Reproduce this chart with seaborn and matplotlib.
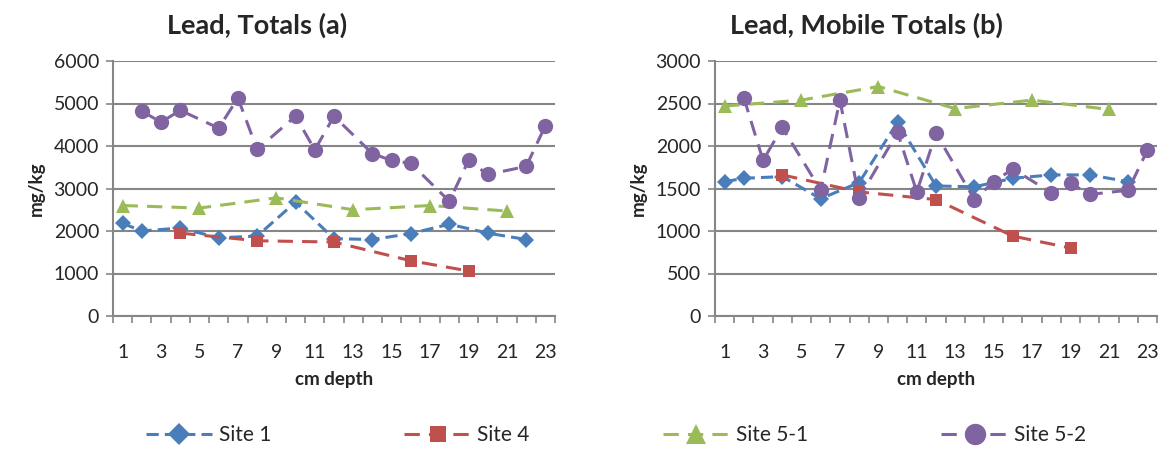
import numpy as np
import pandas as pd
import seaborn as sns
import matplotlib.pyplot as plt

nan = np.nan
depth = list(range(1, 24))
tick_labels = [str(d) for d in range(1, 24, 2)]

# Lead totals (a), mg/kg
totals_site1 = [2180, 2000, nan, 2070, nan, 1840, nan, 1880, nan, 2680, nan, 1820,
                nan, 1800, nan, 1940, nan, 2160, nan, 1950, nan, 1800, nan]
totals_site4 = [nan, nan, nan, 1950, nan, nan, nan, 1770, nan, nan, nan, 1740,
                nan, nan, nan, 1300, nan, nan, 1060, nan, nan, nan, nan]
totals_site51 = [2600, nan, nan, nan, 2540, nan, nan, nan, 2780, nan, nan, nan,
                 2500, nan, nan, nan, 2600, nan, nan, nan, 2470, nan, nan]
totals_site52 = [nan, 4820, 4560, 4840, nan, 4420, 5130, 3920, nan, 4700, 3910, 4700,
                 nan, 3820, 3660, 3590, nan, 2700, 3660, 3330, nan, 3520, 4480]

# Lead mobile totals (b), mg/kg
mobile_site1 = [1580, 1620, nan, 1640, nan, 1380, nan, 1570, nan, 2280, nan, 1530,
                nan, 1520, nan, 1620, nan, 1660, nan, 1660, nan, 1580, nan]
mobile_site4 = [nan, nan, nan, 1660, nan, nan, nan, 1460, nan, nan, nan, 1370,
                nan, nan, nan, 940, nan, nan, 800, nan, nan, nan, nan]
mobile_site51 = [2470, nan, nan, nan, 2540, nan, nan, nan, 2700, nan, nan, nan,
                 2440, nan, nan, nan, 2540, nan, nan, nan, 2430, nan, nan]
mobile_site52 = [nan, 2570, 1830, 2220, nan, 1480, 2540, 1390, nan, 2160, 1460, 2150,
                 nan, 1370, 1580, 1730, nan, 1450, 1560, 1430, nan, 1480, 1950]

sites = ["Site 1", "Site 4", "Site 5-1", "Site 5-2"]
colors = ["#4A7EBB", "#C0504D", "#9BBB59", "#8064A2"]
markers = ["D", "s", "^", "o"]
msizes = [8, 8, 10, 11]
dashes = [(4, 2), (5, 3), (5, 3), (5, 3)]

sns.set_theme(style="white")
plt.rcParams["font.family"] = ["Lato", "DejaVu Sans"]

fig = plt.figure(figsize=(11.65, 4.51), dpi=100)
ax1 = fig.add_axes([113 / 1165, 1 - 316 / 451, 442 / 1165, 255 / 451])
ax2 = fig.add_axes([715 / 1165, 1 - 316 / 451, 442 / 1165, 255 / 451])

grey = "#868686"


def draw(ax, series, ymax, ystep, title, title_x):
    for name, vals, c, m, ms, d in zip(sites, series, colors, markers, msizes, dashes):
        df = pd.DataFrame({"depth": depth, "value": vals}).dropna()
        sns.lineplot(data=df, x="depth", y="value", ax=ax, color=c, marker=m,
                     markersize=ms, markeredgewidth=0, linewidth=2.2,
                     dashes=False, label=name, legend=False)
        ax.lines[-1].set_dashes(d)
    ax.set_xlim(0.5, 23.5)
    ax.set_ylim(0, ymax)
    ax.set_yticks(np.arange(0, ymax + 1, ystep))
    ax.yaxis.grid(True, color=grey, linewidth=1.5)
    ax.set_axisbelow(True)
    ax.set_xticks(np.arange(0.5, 24, 1))
    ax.set_xticklabels([])
    ax.set_xticks(list(range(1, 24, 2)), minor=True)
    ax.set_xticklabels(tick_labels, minor=True)
    ax.tick_params(axis="x", which="major", direction="out", length=5, width=1.2,
                   color=grey, bottom=True)
    ax.tick_params(axis="x", which="minor", length=0, pad=20, labelsize=14)
    ax.tick_params(axis="y", direction="out", length=5, width=1.2, color=grey,
                   left=True, pad=5, labelsize=14)
    for s in ["top", "right"]:
        ax.spines[s].set_visible(False)
    for s in ["left", "bottom"]:
        ax.spines[s].set_color(grey)
        ax.spines[s].set_linewidth(1.5)
    ax.set_xlabel("cm depth", fontsize=13.5, fontweight="bold", labelpad=7)
    ax.set_ylabel("mg/kg", fontsize=13.5, fontweight="bold", labelpad=6)
    fig.text(title_x / 1165, 1 - 25 / 451, title, ha="center", va="center",
             fontsize=19.5, fontweight="bold")


draw(ax1, [totals_site1, totals_site4, totals_site51, totals_site52],
     6000, 1000, "Lead, Totals (a)", 257)
draw(ax2, [mobile_site1, mobile_site4, mobile_site51, mobile_site52],
     3000, 500, "Lead, Mobile Totals (b)", 866)

handles = ax1.lines[:4]
fig.legend(handles, sites, loc="center", bbox_to_anchor=(616 / 1165, 1 - 435 / 451),
           ncol=4, frameon=False, fontsize=15, handlelength=3.2, columnspacing=6.4,
           handletextpad=0.3, markerscale=1.4)

fig.savefig("out.png", dpi=100)
